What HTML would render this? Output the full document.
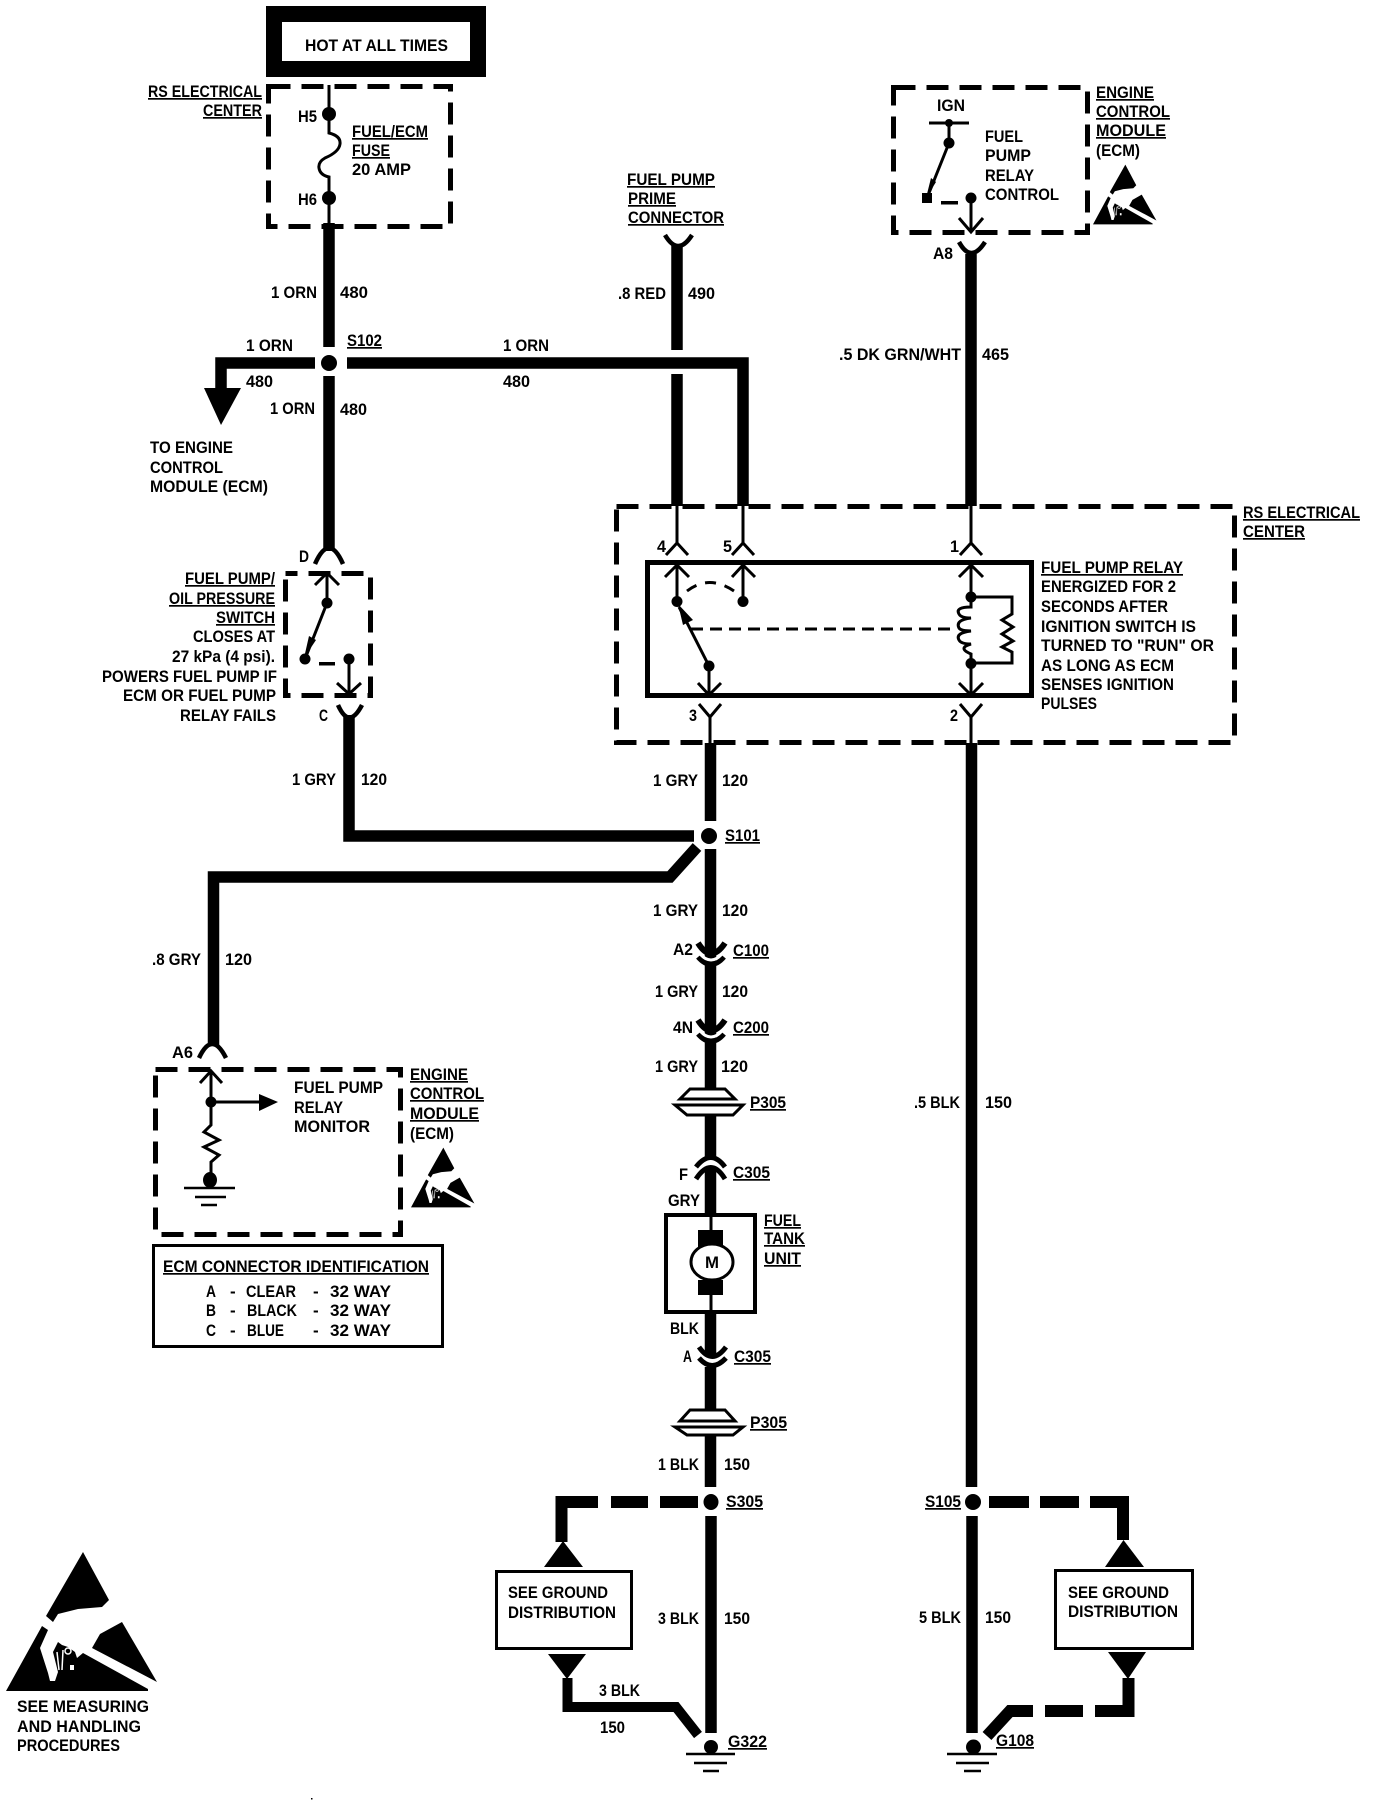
<!DOCTYPE html>
<html><head><meta charset="utf-8"><title>Fuel Pump Wiring Diagram</title>
<style>
html,body{margin:0;padding:0;background:#fff}
svg{display:block}
text{font-family:"Liberation Sans",sans-serif;font-weight:700;font-size:17px;fill:#000;transform:translateY(-1px)}
.u{text-decoration:underline}
.w{fill:none;stroke:#000;stroke-width:11.5}
.t{fill:none;stroke:#000;stroke-width:3}
.y{fill:none;stroke:#000;stroke-width:4.5}
.d{fill:none;stroke:#000;stroke-width:5;stroke-dasharray:22 11}
</style></head><body>
<svg width="1376" height="1804" viewBox="0 0 1376 1804" xmlns="http://www.w3.org/2000/svg">
<rect width="1376" height="1804" fill="#fff"/>
<defs>
<g id="esd">
<polygon points="83,1552 109,1600 102,1607 78,1609 58,1614 53,1622 46,1616"/>
<polygon points="6,1691 42,1626 48,1630 40,1648 48,1673 50,1681 55,1681 58,1672 53,1652 58,1642 62,1645 68,1647 75,1652 77,1658 83,1653 148,1689 148,1691"/>
<polygon points="122,1622 157,1682 92,1648 100,1634"/>
<path d="M57 1652L59 1670M63 1650L62 1670" fill="none" stroke="#fff" stroke-width="1.500"/>
<circle cx="68" cy="1651" r="3" fill="none" stroke="#fff" stroke-width="1.500"/>
<rect x="70" y="1665" width="4" height="5" fill="#fff"/>
</g>
<g id="cc">
<path d="M698 957Q711 972 724 957" fill="none" stroke="#000" stroke-width="5"/>
<path d="M700 954Q711 966 722 954" fill="none" stroke="#fff" stroke-width="3"/>
<path d="M698 943Q711 964 725 943" fill="none" stroke="#000" stroke-width="6"/>
</g>
</defs>

<!-- Hot box -->
<rect x="274" y="14" width="204" height="55" fill="#fff" stroke="#000" stroke-width="16"/>
<text x="305" y="52" textLength="143" lengthAdjust="spacingAndGlyphs">HOT AT ALL TIMES</text>

<!-- Fuse box -->
<rect x="268.500" y="86.500" width="182" height="140" class="d"/>
<path class="t" d="M329 85V133Q341 136 340 144Q339 152 325 158Q318 162 319 168Q320 175 329 177V224"/>
<circle cx="329" cy="114" r="7"/><circle cx="329" cy="198" r="7"/>
<text x="148" y="98" textLength="114" lengthAdjust="spacingAndGlyphs" class="u">RS ELECTRICAL</text>
<text x="203" y="117" textLength="59" lengthAdjust="spacingAndGlyphs" class="u">CENTER</text>
<text x="298" y="123" textLength="19" lengthAdjust="spacingAndGlyphs">H5</text>
<text x="298" y="206" textLength="19" lengthAdjust="spacingAndGlyphs">H6</text>
<text x="352" y="138" textLength="76" lengthAdjust="spacingAndGlyphs" class="u">FUEL/ECM</text>
<text x="352" y="157" textLength="38" lengthAdjust="spacingAndGlyphs" class="u">FUSE</text>
<text x="352" y="176" textLength="59" lengthAdjust="spacingAndGlyphs">20 AMP</text>

<!-- S102 area -->
<path class="w" d="M329 223V347"/>
<circle cx="329" cy="363" r="8"/>
<path class="w" d="M315 363H221V390"/>
<polygon points="204,388 241,388 221,425"/>
<path class="w" d="M347 363H743V506"/>
<path class="w" d="M329 376V551"/>
<text x="271" y="299" textLength="46" lengthAdjust="spacingAndGlyphs">1 ORN</text>
<text x="340" y="299" textLength="28" lengthAdjust="spacingAndGlyphs">480</text>
<text x="347" y="347" textLength="35" lengthAdjust="spacingAndGlyphs" class="u">S102</text>
<text x="246" y="352" textLength="47" lengthAdjust="spacingAndGlyphs">1 ORN</text>
<text x="246" y="388" textLength="27" lengthAdjust="spacingAndGlyphs">480</text>
<text x="270" y="415" textLength="45" lengthAdjust="spacingAndGlyphs">1 ORN</text>
<text x="340" y="416" textLength="27" lengthAdjust="spacingAndGlyphs">480</text>
<text x="503" y="352" textLength="46" lengthAdjust="spacingAndGlyphs">1 ORN</text>
<text x="503" y="388" textLength="27" lengthAdjust="spacingAndGlyphs">480</text>
<text x="150" y="454" textLength="83" lengthAdjust="spacingAndGlyphs">TO ENGINE</text>
<text x="150" y="474" textLength="73" lengthAdjust="spacingAndGlyphs">CONTROL</text>
<text x="150" y="493" textLength="118" lengthAdjust="spacingAndGlyphs">MODULE (ECM)</text>

<!-- Prime connector -->
<text x="627" y="186" textLength="88" lengthAdjust="spacingAndGlyphs" class="u">FUEL PUMP</text>
<text x="628" y="205" textLength="48" lengthAdjust="spacingAndGlyphs" class="u">PRIME</text>
<text x="628" y="224" textLength="96" lengthAdjust="spacingAndGlyphs" class="u">CONNECTOR</text>
<path class="y" d="M665 235Q678 257 692 235"/>
<path class="w" d="M677 244V350M677 374V506"/>
<text x="618" y="300" textLength="48" lengthAdjust="spacingAndGlyphs">.8 RED</text>
<text x="688" y="300" textLength="27" lengthAdjust="spacingAndGlyphs">490</text>

<!-- ECM top box -->
<rect x="893.500" y="87.500" width="194" height="145" class="d"/>
<text x="937" y="112" textLength="28" lengthAdjust="spacingAndGlyphs">IGN</text>
<path class="t" d="M929 123H969M949 123V143M949 143L927 198"/>
<circle cx="949" cy="123" r="4"/><circle cx="949" cy="143" r="5.500"/>
<polygon points="926,198 931,178 936,182"/>
<rect x="922" y="193" width="10" height="10"/>
<rect x="941" y="201" width="17" height="3.500"/>
<circle cx="971" cy="198" r="5.500"/>
<path class="t" d="M971 198V232M959 218L971 232L983 218"/>
<text x="985" y="143" textLength="38" lengthAdjust="spacingAndGlyphs">FUEL</text>
<text x="985" y="162" textLength="46" lengthAdjust="spacingAndGlyphs">PUMP</text>
<text x="985" y="182" textLength="49" lengthAdjust="spacingAndGlyphs">RELAY</text>
<text x="985" y="201" textLength="74" lengthAdjust="spacingAndGlyphs">CONTROL</text>
<text x="1096" y="99" textLength="58" lengthAdjust="spacingAndGlyphs" class="u">ENGINE</text>
<text x="1096" y="118" textLength="74" lengthAdjust="spacingAndGlyphs" class="u">CONTROL</text>
<text x="1096" y="137" textLength="70" lengthAdjust="spacingAndGlyphs" class="u">MODULE</text>
<text x="1096" y="157" textLength="44" lengthAdjust="spacingAndGlyphs">(ECM)</text>
<use href="#esd" transform="translate(1093,165) scale(.42,.43) translate(-6,-1553)"/>
<path class="y" d="M959 242Q971 264 985 242"/>
<path class="w" d="M971 254V506"/>
<text x="933" y="260" textLength="20" lengthAdjust="spacingAndGlyphs">A8</text>
<text x="839" y="361" textLength="122" lengthAdjust="spacingAndGlyphs">.5 DK GRN/WHT</text>
<text x="982" y="361" textLength="27" lengthAdjust="spacingAndGlyphs">465</text>

<!-- RS center relay box -->
<rect x="616.500" y="506.500" width="618" height="236" class="d"/>
<text x="1243" y="519" textLength="117" lengthAdjust="spacingAndGlyphs" class="u">RS ELECTRICAL</text>
<text x="1243" y="538" textLength="62" lengthAdjust="spacingAndGlyphs" class="u">CENTER</text>
<path class="t" d="M677 506V545M666 555L677 543L688 555M743 506V545M732 555L743 543L754 555M971 506V545M960 555L971 543L982 555"/>
<text x="657" y="553" textLength="9" lengthAdjust="spacingAndGlyphs">4</text>
<text x="723" y="553" textLength="9" lengthAdjust="spacingAndGlyphs">5</text>
<text x="950" y="553" textLength="9" lengthAdjust="spacingAndGlyphs">1</text>
<rect x="647.500" y="562.500" width="384" height="133" fill="none" stroke="#000" stroke-width="5"/>
<path class="t" d="M677 567V601M665 577L677 565L689 577M743 567V601M732 577L743 565L755 577"/>
<circle cx="677" cy="601.500" r="5.500"/><circle cx="743" cy="601.500" r="5.500"/>
<path d="M687 591Q709 574 734 591" fill="none" stroke="#000" stroke-width="3" stroke-dasharray="11 9"/>
<path class="t" d="M709 666L679 607"/>
<polygon points="678,604 693,620 683,625"/>
<path d="M691 629H957" fill="none" stroke="#000" stroke-width="3" stroke-dasharray="12 7"/>
<circle cx="709" cy="666" r="5.500"/>
<path class="t" d="M709 666V695M698 683L709 695L721 683"/>
<path class="t" d="M971 567V597M959 577L971 565L983 577M971 663V694M959 683L971 695L983 683"/>
<circle cx="971" cy="597" r="5.500"/><circle cx="971" cy="663.500" r="5.500"/>
<path class="t" d="M971 597H1012V614L1002 620L1013 627L1002 634L1013 641L1002 647L1012 652V663H971"/>
<path class="t" d="M971 597V607Q955 607 959 614Q961 618 971 618Q955 620 959 628Q961 631 971 631Q955 633 959 640Q961 644 971 644Q957 648 971 654V663"/>
<path class="t" d="M699 704L710 717L721 704M710 717V745M960 704L971 717L982 704M971 717V745"/>
<text x="689" y="722" textLength="8" lengthAdjust="spacingAndGlyphs">3</text>
<text x="950" y="722" textLength="8" lengthAdjust="spacingAndGlyphs">2</text>
<text x="1041" y="574" textLength="142" lengthAdjust="spacingAndGlyphs" class="u">FUEL PUMP RELAY</text>
<text x="1041" y="593" textLength="135" lengthAdjust="spacingAndGlyphs">ENERGIZED FOR 2</text>
<text x="1041" y="613" textLength="127" lengthAdjust="spacingAndGlyphs">SECONDS AFTER</text>
<text x="1041" y="633" textLength="155" lengthAdjust="spacingAndGlyphs">IGNITION SWITCH IS</text>
<text x="1041" y="652" textLength="173" lengthAdjust="spacingAndGlyphs">TURNED TO "RUN" OR</text>
<text x="1041" y="672" textLength="133" lengthAdjust="spacingAndGlyphs">AS LONG AS ECM</text>
<text x="1041" y="691" textLength="133" lengthAdjust="spacingAndGlyphs">SENSES IGNITION</text>
<text x="1041" y="710" textLength="56" lengthAdjust="spacingAndGlyphs">PULSES</text>

<!-- Oil pressure switch -->
<path class="y" d="M315 564Q329 532 343 564"/>
<text x="299" y="563" textLength="10" lengthAdjust="spacingAndGlyphs">D</text>
<rect x="285.500" y="573.500" width="85" height="122" class="d" stroke-dashoffset="10"/>
<path class="t" d="M327 574V603M315 585L327 573L339 585M327 603L305 659"/>
<circle cx="327" cy="603" r="5.500"/><circle cx="305" cy="659" r="5.500"/><circle cx="349" cy="659" r="5.500"/>
<polygon points="304,658 309,636 316,640"/>
<rect x="319" y="662" width="16" height="3.500"/>
<path class="t" d="M349 659V693M337 683L349 694L361 683"/>
<text x="185" y="585" textLength="90" lengthAdjust="spacingAndGlyphs" class="u">FUEL PUMP/</text>
<text x="169" y="605" textLength="106" lengthAdjust="spacingAndGlyphs" class="u">OIL PRESSURE</text>
<text x="216" y="624" textLength="59" lengthAdjust="spacingAndGlyphs" class="u">SWITCH</text>
<text x="193" y="643" textLength="82" lengthAdjust="spacingAndGlyphs">CLOSES AT</text>
<text x="172" y="663" textLength="103" lengthAdjust="spacingAndGlyphs">27 kPa (4 psi).</text>
<text x="102" y="683" textLength="175" lengthAdjust="spacingAndGlyphs">POWERS FUEL PUMP IF</text>
<text x="123" y="702" textLength="153" lengthAdjust="spacingAndGlyphs">ECM OR FUEL PUMP</text>
<text x="180" y="722" textLength="96" lengthAdjust="spacingAndGlyphs">RELAY FAILS</text>
<text x="319" y="722" textLength="9" lengthAdjust="spacingAndGlyphs">C</text>
<path class="y" d="M338 705Q349 730 362 705"/>
<path class="w" d="M349 715V836H694"/>
<text x="292" y="786" textLength="44" lengthAdjust="spacingAndGlyphs">1 GRY</text>
<text x="361" y="786" textLength="26" lengthAdjust="spacingAndGlyphs">120</text>

<!-- main vertical 710 -->
<path class="w" d="M710.500 743V821M710.500 849V1089"/>
<circle cx="709" cy="836" r="8"/>
<text x="725" y="842" textLength="35" lengthAdjust="spacingAndGlyphs" class="u">S101</text>
<text x="653" y="787" textLength="45" lengthAdjust="spacingAndGlyphs">1 GRY</text>
<text x="722" y="787" textLength="26" lengthAdjust="spacingAndGlyphs">120</text>
<path class="w" stroke-width="11" d="M697 847L670 877H213.500V1046"/>
<text x="152" y="966" textLength="49" lengthAdjust="spacingAndGlyphs">.8 GRY</text>
<text x="225" y="966" textLength="27" lengthAdjust="spacingAndGlyphs">120</text>
<text x="653" y="917" textLength="45" lengthAdjust="spacingAndGlyphs">1 GRY</text>
<text x="722" y="917" textLength="26" lengthAdjust="spacingAndGlyphs">120</text>
<!-- C100 / C200 -->
<use href="#cc"/>
<text x="673" y="956" textLength="20" lengthAdjust="spacingAndGlyphs">A2</text>
<text x="733" y="957" textLength="36" lengthAdjust="spacingAndGlyphs" class="u">C100</text>
<text x="655" y="998" textLength="43" lengthAdjust="spacingAndGlyphs">1 GRY</text>
<text x="722" y="998" textLength="26" lengthAdjust="spacingAndGlyphs">120</text>
<use href="#cc" transform="translate(0,77)"/>
<text x="673" y="1034" textLength="20" lengthAdjust="spacingAndGlyphs">4N</text>
<text x="733" y="1034" textLength="36" lengthAdjust="spacingAndGlyphs" class="u">C200</text>
<text x="655" y="1073" textLength="43" lengthAdjust="spacingAndGlyphs">1 GRY</text>
<text x="721" y="1073" textLength="27" lengthAdjust="spacingAndGlyphs">120</text>

<!-- P305 upper -->
<path d="M690 1089H725L735 1099H680Z" fill="#fff" stroke="#000" stroke-width="3"/>
<path d="M675 1105H743L733 1115H687Z" fill="#fff" stroke="#000" stroke-width="3"/>
<text x="750" y="1109" textLength="36" lengthAdjust="spacingAndGlyphs" class="u">P305</text>
<path class="w" d="M710.500 1115V1160"/>
<path d="M696 1167Q711 1148 725 1167" fill="none" stroke="#000" stroke-width="5"/>
<path d="M696 1179Q711 1156 725 1179" fill="none" stroke="#000" stroke-width="5"/>
<path class="w" d="M710.500 1169V1214"/>
<text x="679" y="1181" textLength="9" lengthAdjust="spacingAndGlyphs">F</text>
<text x="733" y="1179" textLength="37" lengthAdjust="spacingAndGlyphs" class="u">C305</text>
<text x="668" y="1207" textLength="32" lengthAdjust="spacingAndGlyphs">GRY</text>

<!-- Tank unit -->
<rect x="666" y="1215" width="89" height="97" fill="#fff" stroke="#000" stroke-width="4"/>
<path class="t" d="M711 1213V1232M711 1294V1314"/>
<rect x="698" y="1230" width="25" height="17"/>
<rect x="698" y="1280" width="25" height="15"/>
<ellipse cx="712" cy="1262" rx="21" ry="18" fill="#fff" stroke="#000" stroke-width="3"/>
<text x="705" y="1269" textLength="14" lengthAdjust="spacingAndGlyphs">M</text>
<text x="764" y="1227" textLength="37" lengthAdjust="spacingAndGlyphs" class="u">FUEL</text>
<text x="764" y="1245" textLength="41" lengthAdjust="spacingAndGlyphs" class="u">TANK</text>
<text x="764" y="1265" textLength="37" lengthAdjust="spacingAndGlyphs" class="u">UNIT</text>
<text x="670" y="1335" textLength="29" lengthAdjust="spacingAndGlyphs">BLK</text>
<path class="w" d="M710.500 1314V1354"/>
<path d="M699 1358Q712 1373 726 1358" fill="none" stroke="#000" stroke-width="5"/>
<path d="M699 1347Q712 1366 726 1347" fill="none" stroke="#000" stroke-width="5"/>
<text x="683" y="1363" textLength="9" lengthAdjust="spacingAndGlyphs">A</text>
<text x="734" y="1363" textLength="37" lengthAdjust="spacingAndGlyphs" class="u">C305</text>
<path class="w" d="M710.500 1367V1409"/>
<path d="M690 1410H725L735 1421H680Z" fill="#fff" stroke="#000" stroke-width="3"/>
<path d="M675 1427H743L733 1435H687Z" fill="#fff" stroke="#000" stroke-width="3"/>
<text x="750" y="1429" textLength="37" lengthAdjust="spacingAndGlyphs" class="u">P305</text>
<path class="w" d="M710.500 1435V1487"/>
<text x="658" y="1471" textLength="41" lengthAdjust="spacingAndGlyphs">1 BLK</text>
<text x="724" y="1471" textLength="26" lengthAdjust="spacingAndGlyphs">150</text>

<!-- ECM monitor box -->
<path class="y" d="M199 1058Q212 1030 226 1058"/>
<text x="172" y="1059" textLength="21" lengthAdjust="spacingAndGlyphs">A6</text>
<rect x="155.500" y="1069.500" width="245" height="165" class="d"/>
<path class="t" d="M211 1071V1125L204 1132L219 1140L204 1147L219 1155L211 1162V1175M200 1083L211 1071L222 1083M211 1102H260"/>
<circle cx="211" cy="1102" r="5.500"/>
<polygon points="259,1094 259,1111 278,1102"/>
<ellipse cx="210" cy="1180" rx="7" ry="8"/>
<path d="M184 1188H235M195 1197H226M201 1205H217" fill="none" stroke="#000" stroke-width="2.500"/>
<text x="294" y="1094" textLength="89" lengthAdjust="spacingAndGlyphs">FUEL PUMP</text>
<text x="294" y="1114" textLength="49" lengthAdjust="spacingAndGlyphs">RELAY</text>
<text x="294" y="1133" textLength="76" lengthAdjust="spacingAndGlyphs">MONITOR</text>
<text x="410" y="1081" textLength="58" lengthAdjust="spacingAndGlyphs" class="u">ENGINE</text>
<text x="410" y="1100" textLength="74" lengthAdjust="spacingAndGlyphs" class="u">CONTROL</text>
<text x="410" y="1120" textLength="69" lengthAdjust="spacingAndGlyphs" class="u">MODULE</text>
<text x="410" y="1140" textLength="44" lengthAdjust="spacingAndGlyphs">(ECM)</text>
<use href="#esd" transform="translate(411,1148) scale(.42,.43) translate(-6,-1553)"/>

<!-- ID box -->
<rect x="153.500" y="1245.500" width="289" height="101" fill="none" stroke="#000" stroke-width="3"/>
<text x="163" y="1273" textLength="266" lengthAdjust="spacingAndGlyphs" class="u">ECM CONNECTOR IDENTIFICATION</text>
<text x="206" y="1298" textLength="10" lengthAdjust="spacingAndGlyphs">A</text><text x="230" y="1298">-</text><text x="246" y="1298" textLength="50" lengthAdjust="spacingAndGlyphs">CLEAR</text><text x="313" y="1298">-</text><text x="330" y="1298" textLength="61" lengthAdjust="spacingAndGlyphs">32 WAY</text>
<text x="206" y="1317" textLength="10" lengthAdjust="spacingAndGlyphs">B</text><text x="230" y="1317">-</text><text x="247" y="1317" textLength="50" lengthAdjust="spacingAndGlyphs">BLACK</text><text x="313" y="1317">-</text><text x="330" y="1317" textLength="61" lengthAdjust="spacingAndGlyphs">32 WAY</text>
<text x="206" y="1337" textLength="10" lengthAdjust="spacingAndGlyphs">C</text><text x="230" y="1337">-</text><text x="247" y="1337" textLength="37" lengthAdjust="spacingAndGlyphs">BLUE</text><text x="313" y="1337">-</text><text x="330" y="1337" textLength="61" lengthAdjust="spacingAndGlyphs">32 WAY</text>

<!-- S305 -->
<ellipse cx="711" cy="1502" rx="7.500" ry="8"/>
<path d="M698 1502H660M648 1502H611M598 1502H561.500V1542" fill="none" stroke="#000" stroke-width="12"/>
<polygon points="563,1541 544,1567 583,1567"/>
<text x="726" y="1508" textLength="37" lengthAdjust="spacingAndGlyphs" class="u">S305</text>
<path class="w" d="M711 1516V1733"/>
<rect x="496.500" y="1571.500" width="135" height="77" fill="#fff" stroke="#000" stroke-width="3"/>
<text x="508" y="1599" textLength="100" lengthAdjust="spacingAndGlyphs">SEE GROUND</text>
<text x="508" y="1619" textLength="108" lengthAdjust="spacingAndGlyphs">DISTRIBUTION</text>
<text x="658" y="1625" textLength="41" lengthAdjust="spacingAndGlyphs">3 BLK</text>
<text x="724" y="1625" textLength="26" lengthAdjust="spacingAndGlyphs">150</text>
<polygon points="548,1654 586,1654 567,1679"/>
<path d="M567.500 1678V1707H676L698 1735" fill="none" stroke="#000" stroke-width="10"/>
<text x="599" y="1697" textLength="41" lengthAdjust="spacingAndGlyphs">3 BLK</text>
<text x="600" y="1734" textLength="25" lengthAdjust="spacingAndGlyphs">150</text>
<text x="728" y="1748" textLength="39" lengthAdjust="spacingAndGlyphs" class="u">G322</text>
<circle cx="711" cy="1747" r="7"/>
<path d="M686 1754H735M694 1763H727M703 1771H719" fill="none" stroke="#000" stroke-width="2.500"/>

<!-- right wire -->
<path class="w" d="M971.500 743V1487M972 1516V1733"/>
<text x="914" y="1109" textLength="46" lengthAdjust="spacingAndGlyphs">.5 BLK</text>
<text x="985" y="1109" textLength="27" lengthAdjust="spacingAndGlyphs">150</text>
<circle cx="973" cy="1502" r="8"/>
<text x="925" y="1508" textLength="36" lengthAdjust="spacingAndGlyphs" class="u">S105</text>
<path d="M989 1502H1029M1040 1502H1079M1090 1502H1123V1540" fill="none" stroke="#000" stroke-width="12"/>
<polygon points="1123.500,1540 1105,1567 1144,1567"/>
<rect x="1055.500" y="1570.500" width="137" height="78" fill="#fff" stroke="#000" stroke-width="3"/>
<text x="1068" y="1599" textLength="101" lengthAdjust="spacingAndGlyphs">SEE GROUND</text>
<text x="1068" y="1618" textLength="110" lengthAdjust="spacingAndGlyphs">DISTRIBUTION</text>
<text x="919" y="1624" textLength="42" lengthAdjust="spacingAndGlyphs">5 BLK</text>
<text x="985" y="1624" textLength="26" lengthAdjust="spacingAndGlyphs">150</text>
<polygon points="1108,1652 1146,1652 1128,1679"/>
<path d="M1128.500 1678V1711H1095M1083 1711H1045M1033 1711H1010L987 1736" fill="none" stroke="#000" stroke-width="12"/>
<text x="996" y="1747" textLength="38" lengthAdjust="spacingAndGlyphs" class="u">G108</text>
<circle cx="973.500" cy="1747" r="7.500"/>
<path d="M947 1754H997M956 1763H989M964 1771H981" fill="none" stroke="#000" stroke-width="2.500"/>

<!-- Big ESD -->
<use href="#esd"/>
<text x="17" y="1713" textLength="132" lengthAdjust="spacingAndGlyphs">SEE MEASURING</text>
<text x="17" y="1733" textLength="124" lengthAdjust="spacingAndGlyphs">AND HANDLING</text>
<text x="17" y="1752" textLength="103" lengthAdjust="spacingAndGlyphs">PROCEDURES</text>
<rect x="311" y="1798" width="1.500" height="1.500"/>
</svg>
</body></html>
